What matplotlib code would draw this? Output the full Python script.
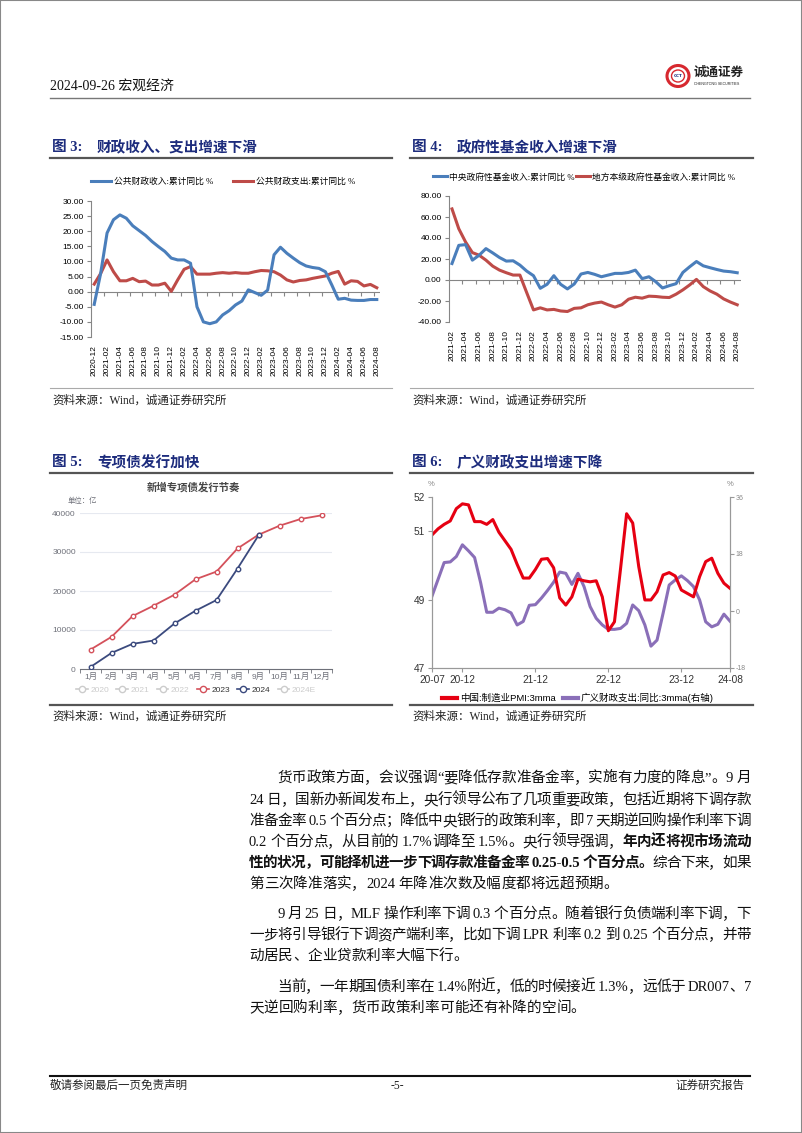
import numpy as np
import pandas as pd
import matplotlib
matplotlib.use("Agg")
import matplotlib.pyplot as plt
from matplotlib.lines import Line2D
from matplotlib.patches import Rectangle, Ellipse
from matplotlib.font_manager import FontProperties

# ---------------- data ----------------
fig3_months = list(pd.period_range("2020-12", "2024-08", freq="M").strftime("%Y-%m"))
fig3_revenue = [-4.2, 6.0, 19.4, 23.8, 25.4, 24.3, 21.8, 20.2, 18.6, 16.6, 14.9, 13.3, 11.1,
                10.5, 10.5, 9.4, -5.0, -10.0, -10.6, -10.0, -7.7, -6.3, -4.4, -3.1, 0.6,
                -0.3, -1.2, 0.5, 12.2, 14.7, 12.7, 11.1, 9.6, 8.5, 8.0, 7.7, 6.6,
                2.2, -2.5, -2.2, -2.8, -2.9, -2.9, -2.6, -2.6]
fig3_spending = [2.5, 6.0, 10.5, 6.6, 3.6, 3.6, 4.4, 3.3, 3.5, 2.2, 2.2, 2.8, 0.1,
                 3.9, 7.4, 8.3, 5.8, 5.8, 5.8, 6.1, 6.3, 6.1, 6.3, 6.1, 6.1,
                 6.6, 7.0, 6.9, 6.6, 5.5, 3.9, 3.2, 3.7, 3.9, 4.4, 4.8, 5.2,
                 6.1, 6.7, 2.5, 3.6, 3.4, 1.9, 2.4, 1.3]
fig3_legend = ["公共财政收入:累计同比 %", "公共财政支出:累计同比 %"]

fig4_months = list(pd.period_range("2021-02", "2024-08", freq="M").strftime("%Y-%m"))
fig4_central = [15.7, 33.0, 33.7, 18.9, 23.6, 29.9, 25.8, 21.4, 18.0, 18.3, 14.2,
                8.5, 4.1, -7.9, -4.1, 4.1, -4.1, -8.5, -3.8, 5.7, 7.2, 5.4, 3.1,
                4.7, 6.3, 6.3, 7.2, 9.4, 1.3, 3.1, -1.6, -7.6, -5.4, -3.5, 7.2,
                12.6, 17.6, 13.5, 11.7, 10.0, 8.5, 7.9, 6.9]
fig4_local = [67.7, 48.8, 36.2, 26.1, 23.6, 18.9, 13.2, 9.4, 6.9, 4.7, 4.7,
              -12.0, -28.5, -26.5, -28.5, -28.0, -29.5, -30.0, -27.0, -26.5, -23.6, -22.0, -21.0,
              -23.6, -25.8, -23.6, -18.3, -16.4, -17.3, -15.4, -15.7, -16.4, -16.7, -13.5, -9.4,
              -4.7, 0.6, -6.3, -10.4, -13.5, -18.0, -21.0, -23.6]
fig4_legend = ["中央政府性基金收入:累计同比 %", "地方本级政府性基金收入:累计同比 %"]

fig5_months = ["1月", "2月", "3月", "4月", "5月", "6月", "7月", "8月", "9月", "10月", "11月", "12月"]
fig5_2023 = [4980, 8240, 13560, 16220, 19060, 23000, 24980, 30900, 34420, 36740, 38450, 39400]
fig5_2024 = [515, 4120, 6440, 7300, 11670, 14940, 17680, 25750, 34250]
fig5_series = ["2020", "2021", "2022", "2023", "2024", "2024E"]

fig6_months = list(pd.period_range("2020-07", "2024-08", freq="M").strftime("%y-%m"))
fig6_pmi = [50.89, 51.07, 51.2, 51.3, 51.66, 51.8,
            51.77, 51.28, 51.28, 51.2, 51.34, 50.97, 50.72, 50.47, 50.03, 49.63, 49.63, 49.88,
            50.18, 50.2, 49.93, 49.05, 48.84, 49.08, 49.6, 49.55, 49.52, 49.55, 49.08, 48.09,
            48.35, 49.9, 51.51, 51.24, 49.96, 48.99, 48.99, 49.23, 49.72, 49.79, 49.69, 49.28,
            49.18, 49.08, 49.67, 50.11, 50.21, 49.77, 49.48, 49.33]
fig6_fiscal = [4.7, 10.0, 15.3, 15.5, 17.2, 20.9,
               19.0, 16.9, 8.9, -0.4, -0.4, 0.9, 0.4, -0.6, -4.4, -3.3, 1.8, 2.0,
               4.1, 6.5, 9.1, 12.3, 11.9, 8.4, 11.9, 7.7, 1.4, -2.3, -4.4, -5.8,
               -5.8, -5.5, -3.9, 1.9, 0.1, -4.4, -11.1, -9.2, -0.7, 8.2, 9.8, 11.1,
               9.6, 7.7, 3.5, -3.4, -5.0, -4.2, -1.0, -3.2]
fig6_ticks = ["20-07", "20-12", "21-12", "22-12", "23-12", "24-08"]
fig6_legend = ["中国:制造业PMI:3mma", "广义财政支出:同比:3mma(右轴)"]

# body text, one entry per printed line: (segments, indent, justify)
para_lines = [
    ([("货币政策方面，会议强调“要降低存款准备金率，实施有力度的降息”。9 月", "normal")], True, True),
    ([("24 日，国新办新闻发布上，央行领导公布了几项重要政策，包括近期将下调存款", "normal")], False, True),
    ([("准备金率 0.5 个百分点；降低中央银行的政策利率，即 7 天期逆回购操作利率下调", "normal")], False, True),
    ([("0.2 个百分点，从目前的 1.7%调降至 1.5%。央行领导强调，", "normal"), ("年内还将视市场流动", "bold")], False, True),
    ([("性的状况，可能择机进一步下调存款准备金率 0.25-0.5 个百分点。", "bold"), ("综合下来，如果", "normal")], False, True),
    ([("第三次降准落实，2024 年降准次数及幅度都将远超预期。", "normal")], False, False),
    ([("9 月 25 日，MLF 操作利率下调 0.3 个百分点。随着银行负债端利率下调，下", "normal")], True, True),
    ([("一步将引导银行下调资产端利率，比如下调 LPR 利率 0.2 到 0.25 个百分点，并带", "normal")], False, True),
    ([("动居民、企业贷款利率大幅下行。", "normal")], False, False),
    ([("当前，一年期国债利率在 1.4%附近，低的时候接近 1.3%，远低于 DR007、7", "normal")], True, True),
    ([("天逆回购利率，货币政策利率可能还有补降的空间。", "normal")], False, False),
]
line_y = [777, 799, 820, 841, 862, 883, 913, 934, 955, 986, 1007]

# ---------------- helpers ----------------
W, H = 802, 1133
fig = plt.figure(figsize=(W / 100, H / 100), dpi=100)
CJK = "Noto Sans CJK SC"
SERIF = ["Liberation Serif", CJK]
SANS = ["Liberation Sans", CJK]
NAVY = "#1d2c7d"
BLUE, RED = "#4a7ebb", "#be4b48"
GREY = "#868686"


def px_ax(x0, y0, x1, y1):
    return fig.add_axes([x0 / W, 1 - y1 / H, (x1 - x0) / W, (y1 - y0) / H])


def ftext(x, y, s, **kw):
    return fig.text(x / W, 1 - y / H, s, **kw)


def hline(x0, x1, y, color, lw):
    fig.add_artist(Line2D([x0 / W, x1 / W], [1 - y / H, 1 - y / H], color=color, lw=lw))


fig.add_artist(Rectangle((0, 0), 1, 1, transform=fig.transFigure, fill=False, ec="#888888", lw=1.5))

# header / footer
ftext(50, 86, "2024-09-26 宏观经济", family=SERIF, fontsize=10, va="center", color="#111")
hline(50, 750, 98, "#777777", 1.0)
fig.add_artist(Ellipse((678 / W, 1 - 76 / H), 22 / W, 21 / H, fc="white", ec="#d7282f", lw=2.2))
fig.add_artist(Ellipse((678 / W, 1 - 76 / H), 13 / W, 12 / H, fc="white", ec="#d7282f", lw=1.0))
ftext(678, 76, "CCT", fontsize=3, color="#1d2c7d", ha="center", va="center", weight="bold")
ftext(694, 73, "诚通证券", family=SERIF, fontsize=9, weight="bold", va="center", color="#222")
ftext(694, 84, "CHENGTONG SECURITIES", family=SANS, fontsize=2.6, va="center", color="#222")
hline(50, 750, 1076, "#111111", 1.5)
ftext(50, 1086, "敬请参阅最后一页免责声明", family=SERIF, fontsize=8.3, va="center", color="#222")
ftext(397, 1086, "-5-", family=SERIF, fontsize=8.3, va="center", ha="center", color="#222")
ftext(744, 1086, "证券研究报告", family=SERIF, fontsize=8.3, va="center", ha="right", color="#222")

# figure titles, rules and sources
titles = [(52, 97, 148, "图 3:", "财政收入、支出增速下滑"),
          (412, 457, 148, "图 4:", "政府性基金收入增速下滑"),
          (52, 97, 463, "图 5:", "专项债发行加快"),
          (412, 457, 463, "图 6:", "广义财政支出增速下降")]
for x0, x1, y, a, b in titles:
    ftext(x0, y, a, family=SERIF, fontsize=10.5, weight="bold", color=NAVY, va="center")
    ftext(x1, y, b, family=SERIF, fontsize=10.5, weight="bold", color=NAVY, va="center")
for x0, x1 in [(50, 392), (410, 753)]:
    hline(x0, x1, 158, "#555555", 1.6)
    hline(x0, x1, 473, "#555555", 1.6)
    hline(x0, x1, 388, "#aaaaaa", 0.8)
    hline(x0, x1, 705, "#555555", 1.6)
for x in (52, 412):
    for y in (401, 717):
        ftext(x, y, "资料来源：Wind，诚通证券研究所", family=SERIF, fontsize=8.3, va="center", color="#222")

# ---------------- figure 3 ----------------
tick_font = FontProperties(family=SANS, size=6)


def excel_axes(ax, n, ylo, yhi, step, labels):
    ax.set_xlim(-0.5, n - 0.5)
    ax.set_ylim(ylo, yhi)
    yt = np.arange(ylo, yhi + 1, step)
    ax.set_yticks(yt)
    ax.set_yticklabels([f"{v:.2f}" for v in yt], fontproperties=tick_font)
    ax.set_xticks(np.arange(0, n, 2))
    ax.set_xticklabels(labels[::2], rotation=90, fontproperties=tick_font, va="top")
    for s in ["top", "right", "bottom"]:
        ax.spines[s].set_visible(False)
    ax.spines["left"].set_color(GREY)
    ax.tick_params(axis="y", length=3, color=GREY, pad=2)
    ax.tick_params(axis="x", length=0, pad=6)
    ax.axhline(0, color=GREY, lw=0.8, zorder=1)
    ax.plot(np.arange(1.5, n, 2), np.zeros(len(np.arange(1.5, n, 2))), ls="", marker=3,
            ms=3, color=GREY, mew=0.8, zorder=1)
    ax.patch.set_visible(False)


ax3 = px_ax(91, 201, 380, 337)
x3 = np.arange(len(fig3_months))
l1, = ax3.plot(x3, fig3_revenue, color=BLUE, lw=2.2, solid_joinstyle="round", zorder=3)
l2, = ax3.plot(x3, fig3_spending, color=RED, lw=2.2, solid_joinstyle="round", zorder=2)
excel_axes(ax3, len(fig3_months), -15, 30, 5, fig3_months)
fig.legend([l1, l2], fig3_legend, loc="center", bbox_to_anchor=(223 / W, 1 - 182 / H), ncol=2,
           frameon=False, prop=FontProperties(family=SERIF, size=6.3), handlelength=2.3,
           handletextpad=0.4, columnspacing=2.2)

# ---------------- figure 4 ----------------
ax4 = px_ax(448.6, 196, 740.6, 322)
x4 = np.arange(len(fig4_months))
l1, = ax4.plot(x4, fig4_central, color=BLUE, lw=2.2, solid_joinstyle="round", zorder=3)
l2, = ax4.plot(x4, fig4_local, color=RED, lw=2.2, solid_joinstyle="round", zorder=2)
excel_axes(ax4, len(fig4_months), -40, 80, 20, fig4_months)
fig.legend([l1, l2], fig4_legend, loc="center", bbox_to_anchor=(584 / W, 1 - 177 / H), ncol=2,
           frameon=False, prop=FontProperties(family=SERIF, size=6.3), handlelength=1.6,
           handletextpad=0.2, columnspacing=0.2)

# ---------------- figure 5 ----------------
EC_GREY = "#6e7079"
ax5 = px_ax(80, 513, 332, 669)
x5 = np.arange(len(fig5_months))
c23, c24 = "#d4515b", "#3b4a7e"
ax5.plot(x5, fig5_2023, color=c23, lw=1.3, marker="o", ms=3.2, mfc="white", mec=c23, mew=1.0, zorder=3)
ax5.plot(x5[:len(fig5_2024)], fig5_2024, color=c24, lw=1.3, marker="o", ms=3.2, mfc="white",
         mec=c24, mew=1.0, zorder=4)
ax5.set_xlim(-0.5, len(fig5_months) - 0.5)
ax5.set_ylim(0, 40000)
ax5.set_yticks(np.arange(0, 40001, 10000))
ax5.set_yticklabels([str(v) for v in np.arange(0, 40001, 10000)], fontproperties=FontProperties(family=SANS, size=6),
                    color=EC_GREY)
ax5.set_xticks(x5)
ax5.set_xticklabels(fig5_months, fontproperties=FontProperties(family=SANS, size=6), color=EC_GREY)
ax5.set_xticks(np.arange(-0.5, len(fig5_months), 1), minor=True)
ax5.tick_params(axis="x", which="major", length=0, pad=3)
ax5.tick_params(axis="x", which="minor", length=3, color=EC_GREY)
ax5.tick_params(axis="y", length=0, pad=3)
ax5.grid(axis="y", color="#e6e9f0", lw=0.8)
ax5.set_axisbelow(True)
for s in ["top", "right", "left"]:
    ax5.spines[s].set_visible(False)
ax5.spines["bottom"].set_color(EC_GREY)
ftext(193, 487, "新增专项债发行节奏", family=SANS, fontsize=7.5, weight="bold", ha="center",
      va="center", color="#464646")
ftext(68, 501, "单位：亿", family=SANS, fontsize=5.3, va="center", color=EC_GREY)
leg_colors = ["#cccccc", "#cccccc", "#cccccc", c23, c24, "#cccccc"]
handles = [Line2D([0], [0], color=c, lw=1.2, marker="o", ms=4.5, mfc="white", mec=c, mew=1.0)
           for c in leg_colors]
fig.legend(handles, fig5_series, loc="center", bbox_to_anchor=(196 / W, 1 - 690 / H), ncol=6,
           frameon=False, prop=FontProperties(family=SANS, size=6), handlelength=1.4,
           handletextpad=0.3, columnspacing=0.9,
           labelcolor=["#cccccc", "#cccccc", "#cccccc", "#333333", "#333333", "#cccccc"])

# ---------------- figure 6 ----------------
ax6 = px_ax(432, 497, 730, 668)
ax6r = ax6.twinx()
x6 = np.arange(len(fig6_months))
p1, = ax6.plot(x6, fig6_pmi, color="#e60012", lw=2.2, solid_joinstyle="round")
p2, = ax6r.plot(x6, fig6_fiscal, color="#8a6fb8", lw=2.2, solid_joinstyle="round")
ax6.set_zorder(ax6r.get_zorder() + 1)
ax6.patch.set_visible(False)
ax6.set_xlim(0, len(fig6_months) - 1)
ax6.set_ylim(47, 52)
ax6r.set_ylim(-18, 36)
ax6.set_yticks([47, 49, 51, 52])
ax6.set_yticklabels(["47", "49", "51", "52"], fontproperties=FontProperties(family=SANS, size=7.3), color="#333")
ax6r.set_yticks([-18, 0, 18, 36])
ax6r.set_yticklabels(["-18", "0", "18", "36"], fontproperties=FontProperties(family=SANS, size=5), color="#888")
ax6.set_xticks([fig6_months.index(t) for t in fig6_ticks])
ax6.set_xticklabels(fig6_ticks, fontproperties=FontProperties(family=SANS, size=7.3), color="#333")
for a in (ax6, ax6r):
    a.spines["top"].set_visible(False)
    for s in ["left", "right", "bottom"]:
        a.spines[s].set_color("#999999")
        a.spines[s].set_linewidth(0.8)
ax6.tick_params(axis="both", length=3, color="#999999", pad=2)
ax6r.tick_params(axis="y", length=3, color="#999999", pad=1)
ftext(431, 485, "%", family=SANS, fontsize=5.5, color="#888", ha="center", va="center")
ftext(730, 485, "%", family=SANS, fontsize=5.5, color="#888", ha="center", va="center")
fig.legend([p1, p2], fig6_legend, loc="center", bbox_to_anchor=(578 / W, 1 - 698 / H), ncol=2,
           frameon=False, prop=FontProperties(family=SANS, size=6.8), handlelength=1.6,
           handletextpad=0.3, columnspacing=0.8)
for t in fig.legends[-1].get_lines():
    t.set_linewidth(3)

# ---------------- body text ----------------
FS = 10.5
renderer = fig.canvas.get_renderer()


def text_w(s, weight):
    fp = FontProperties(family=SERIF, size=FS, weight=weight)
    return renderer.get_text_width_height_descent(s, fp, ismath=False)[0] * 100 / fig.dpi


def split_units(segs):
    units = []
    for s, wgt in segs:
        buf = ""
        for ch in s:
            if ch == " ":
                if buf:
                    units.append((buf, wgt))
                    buf = ""
                units.append((" ", wgt))
            elif ord(ch) < 128:
                buf += ch
            else:
                if buf:
                    units.append((buf, wgt))
                    buf = ""
                units.append((ch, wgt))
        if buf:
            units.append((buf, wgt))
    return units


space_w = text_w("a a", "normal") - text_w("aa", "normal")
LEFT, RIGHT, INDENT = 249, 751, 28
for (segs, indent, justify), y in zip(para_lines, line_y):
    units = split_units(segs)
    widths = [space_w if u == " " else text_w(u, w) for u, w in units]
    x = LEFT + (INDENT if indent else 0)
    gap = 0.0
    if justify and len(units) > 1:
        gap = (RIGHT - x - sum(widths)) / (len(units) - 1)
    for (u, wgt), wd in zip(units, widths):
        if u != " ":
            ftext(x, y + 5, u, family=SERIF, fontsize=FS, weight=wgt, va="baseline", color="#111")
        x += wd + gap

fig.savefig("out.png", dpi=100)
